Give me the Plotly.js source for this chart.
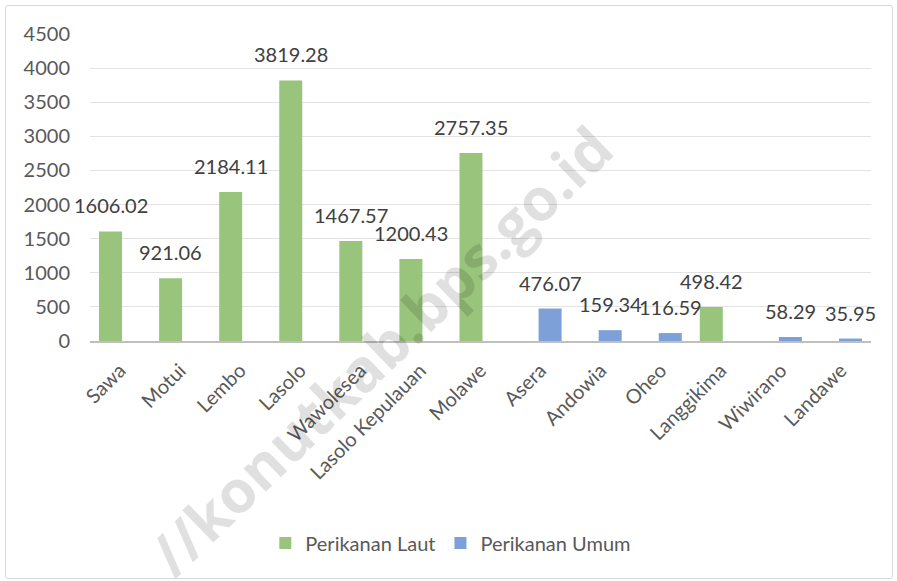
<!DOCTYPE html>
<html>
<head>
<meta charset="utf-8">
<script src="https://cdn.plot.ly/plotly-3.0.1.min.js"></script>
<style>
  html, body { margin: 0; padding: 0; background: #fff; }
  #chart { position: absolute; left: 0; top: 0; width: 897px; height: 581px; }
  #frame { position: absolute; left: 5px; top: 5px; width: 886px; height: 572px;
           border: 1.5px solid #d9d9d9; border-radius: 3px; pointer-events: none; }
</style>
</head>
<body>
<div id="chart"></div>
<div id="frame"></div>
<script>
const categories = ["Sawa", "Motui", "Lembo", "Lasolo", "Wawolesea", "Lasolo Kepulauan",
  "Molawe", "Asera", "Andowia", "Oheo", "Langgikima", "Wiwirano", "Landawe"];
const perikananLaut = [1606.02, 921.06, 2184.11, 3819.28, 1467.57, 1200.43,
  2757.35, null, null, null, 498.42, null, null];
const perikananUmum = [null, null, null, null, null, null,
  null, 476.07, 159.34, 116.59, null, 58.29, 35.95];
const seriesNames = ["Perikanan Laut", "Perikanan Umum"];
const yTicks = [0, 500, 1000, 1500, 2000, 2500, 3000, 3500, 4000, 4500];
const watermark = "//konutkab.bps.go.id";

const FONT = "Lato, 'Open Sans', sans-serif";
const GREEN = "#99c47c";
const BLUE = "#7ea0d9";

const traces = [
  { type: "bar", name: seriesNames[0], x: categories, y: perikananLaut,
    marker: { color: GREEN }, width: 0.383, offset: -0.35, hoverinfo: "x+y" },
  { type: "bar", name: seriesNames[1], x: categories, y: perikananUmum,
    marker: { color: BLUE }, width: 0.383, offset: -0.033, hoverinfo: "x+y" }
];

const annotations = [];
function addLabels(vals, shift) {
  vals.forEach((v, i) => {
    if (v === null) return;
    annotations.push({
      x: categories[i], y: v, xref: "x", yref: "y",
      text: v.toFixed(2), showarrow: false,
      xanchor: "center", yanchor: "bottom", xshift: shift, yshift: 12,
      font: { family: FONT, size: 20, color: "#404040" }
    });
  });
}
addLabels(perikananLaut, -9.5);
addLabels(perikananUmum, 9.5);

annotations.push({
  xref: "paper", yref: "paper", x: 0.371, y: -0.03,
  xanchor: "center", yanchor: "middle",
  text: "<b>" + watermark + "</b>", showarrow: false, textangle: -44,
  font: { family: "'Open Sans', sans-serif", size: 59, color: "rgba(0,0,0,0.12)" }
});

const layout = {
  width: 897, height: 581,
  margin: { l: 90, r: 26, t: 34, b: 240 },
  paper_bgcolor: "#ffffff", plot_bgcolor: "#ffffff",
  barmode: "overlay",
  showlegend: true,
  legend: {
    orientation: "h", x: 0.462, xanchor: "center", y: -0.658, yanchor: "middle",
    font: { family: FONT, size: 20, color: "#595959" },
    itemwidth: 30, traceorder: "normal"
  },
  xaxis: {
    type: "category", categoryarray: categories, categoryorder: "array",
    tickangle: -45, tickfont: { family: FONT, size: 20, color: "#595959" },
    showgrid: false, showline: true, linecolor: "#bfbfbf", linewidth: 2,
    ticks: "", ticklabelstandoff: 8, range: [-0.5, 12.5], fixedrange: true
  },
  yaxis: {
    range: [0, 4500], tickvals: yTicks, ticktext: yTicks.map(String),
    tickfont: { family: FONT, size: 20, color: "#595959" },
    showgrid: true, gridcolor: "#e3e3e3", gridwidth: 1,
    zeroline: false, showline: false, ticks: "", ticklabelstandoff: 19,
    fixedrange: true
  },
  annotations: annotations,
  font: { family: FONT }
};

Plotly.newPlot("chart", traces, layout, { displayModeBar: false, staticPlot: true });
</script>
</body>
</html>
